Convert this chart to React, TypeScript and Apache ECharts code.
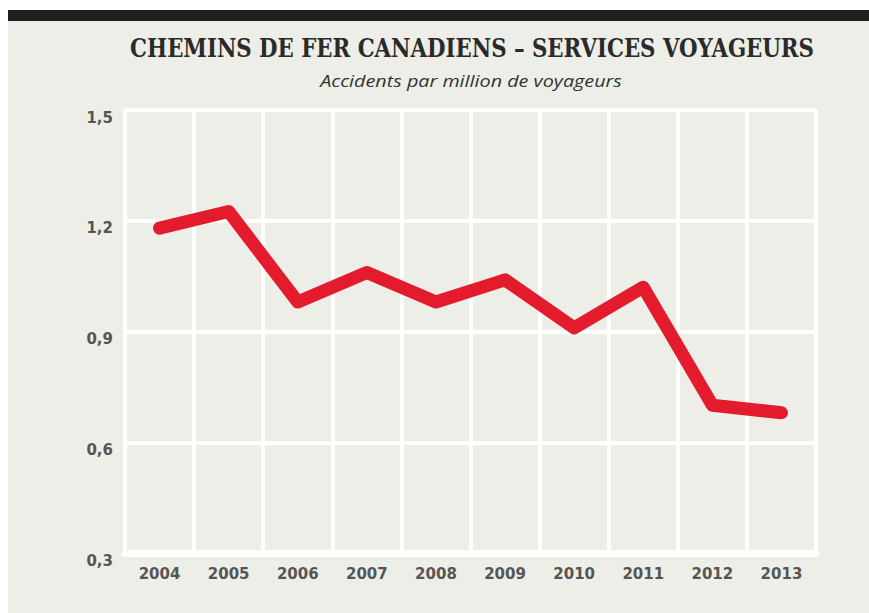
import React, { useEffect, useRef } from "react";
import * as echarts from "echarts";

const years = ["2004", "2005", "2006", "2007", "2008", "2009", "2010", "2011", "2012", "2013"];
const accidents = [1.18, 1.225, 0.98, 1.06, 0.98, 1.04, 0.91, 1.02, 0.7, 0.68];
const yTicks = { min: 0.3, max: 1.5, interval: 0.3 };

const TITLE = "CHEMINS DE FER CANADIENS – SERVICES VOYAGEURS";
const SUBTITLE = "Accidents par million de voyageurs";

const TITLE_FONT = { family: "'DejaVu Serif', serif", size: 26, weight: "bold", style: "normal" };
const SUB_FONT = { family: "'Open Sans', 'DejaVu Sans', sans-serif", size: 17, weight: "normal", style: "italic" };

function measure(text: string, f: { family: string; size: number; weight: string; style: string }) {
  const c = document.createElement("canvas").getContext("2d");
  if (!c) return 1;
  c.font = `${f.style} ${f.weight} ${f.size}px ${f.family}`;
  return c.measureText(text).width || 1;
}

export default function App() {
  const ref = useRef<HTMLDivElement>(null);
  useEffect(() => {
    document.body.style.margin = "0";
    if (!ref.current) return;
    const chart = echarts.init(ref.current, undefined, { renderer: "svg" });
    const titleScale = 684 / measure(TITLE, TITLE_FONT);
    const subScale = 302 / measure(SUBTITLE, SUB_FONT);
    const axisFont = {
      color: "#555555",
      fontFamily: "'DejaVu Sans', sans-serif",
      fontWeight: "bold" as const,
      fontSize: 15,
    };
    chart.setOption({
      animation: false,
      backgroundColor: "#ffffff",
      graphic: [
        { type: "rect", z: -10, silent: true, shape: { x: 8, y: 21, width: 861, height: 592 }, style: { fill: "#eeeee8" } },
        { type: "rect", z: -10, silent: true, shape: { x: 8, y: 10, width: 861, height: 11 }, style: { fill: "#231f20" } },
        {
          type: "text",
          x: 472,
          y: 48,
          scaleX: titleScale,
          style: {
            text: TITLE,
            fill: "#2a2a2a",
            font: `${TITLE_FONT.style} ${TITLE_FONT.weight} ${TITLE_FONT.size}px ${TITLE_FONT.family}`,
            align: "center",
            verticalAlign: "middle",
          },
        },
        {
          type: "text",
          x: 471,
          y: 80,
          scaleX: subScale,
          style: {
            text: SUBTITLE,
            fill: "#333333",
            font: `${SUB_FONT.style} ${SUB_FONT.weight} ${SUB_FONT.size}px ${SUB_FONT.family}`,
            align: "center",
            verticalAlign: "middle",
          },
        },
      ],
      grid: { left: 125, right: 53, top: 110, bottom: 60, containLabel: false },
      xAxis: {
        type: "category",
        data: years,
        boundaryGap: true,
        axisLine: { show: true, lineStyle: { color: "#ffffff", width: 7 } },
        axisTick: { show: false },
        splitLine: { show: true, lineStyle: { color: "#ffffff", width: 4 } },
        axisLabel: { ...axisFont, margin: 13, interval: 0 },
      },
      yAxis: {
        type: "value",
        min: yTicks.min,
        max: yTicks.max,
        interval: yTicks.interval,
        axisLine: { show: false },
        axisTick: { show: false },
        splitLine: { show: true, lineStyle: { color: "#ffffff", width: 4 } },
        axisLabel: {
          ...axisFont,
          margin: 12,
          verticalAlign: "top",
          formatter: (v: number) => v.toFixed(1).replace(".", ","),
        },
      },
      series: [
        {
          type: "line",
          data: accidents,
          showSymbol: false,
          symbol: "none",
          lineStyle: { color: "#e31b2c", width: 13, cap: "round", join: "round" },
          z: 5,
        },
      ],
    });
    return () => chart.dispose();
  }, []);
  return <div ref={ref} style={{ width: 869, height: 613 }} />;
}
